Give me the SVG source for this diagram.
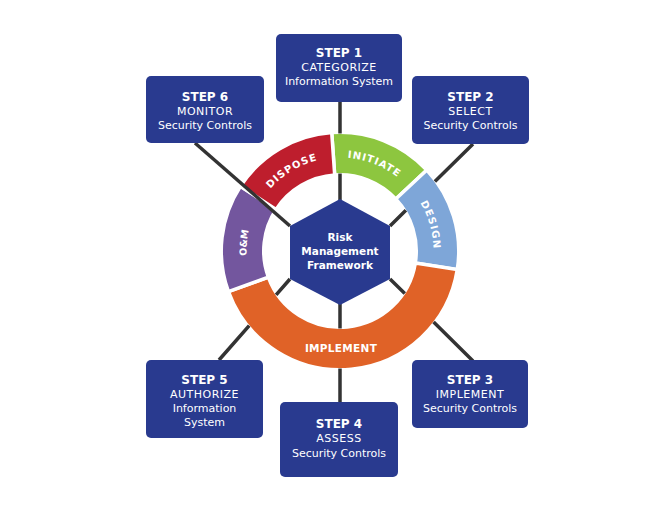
<svg xmlns="http://www.w3.org/2000/svg" xmlns:xlink="http://www.w3.org/1999/xlink" width="667" height="525" viewBox="0 0 667 525">
<style>
.box{fill:#293a8f}
.t{font-family:"DejaVu Sans","Liberation Sans",sans-serif;fill:#fff;text-anchor:middle}
.h{font-size:12px;font-weight:bold}
.c{font-size:11px;letter-spacing:0.5px}
.s{font-size:11px}
.hex{font-size:10.5px;font-weight:bold}
.seg{stroke:#fff;stroke-width:3.5;stroke-linejoin:miter}
.rl{font-family:"DejaVu Sans","Liberation Sans",sans-serif;fill:#fff;font-size:10px;font-weight:bold;letter-spacing:1px;text-anchor:middle}
.con{fill:none;stroke:#333;stroke-width:3.5}
</style>
<defs>
<path id="pDispose" d="M251.59,220.56 A93.5,93.5 0 0 1 354.63,158.65"/>
<path id="pInitiate" d="M310.33,162.33 A93.5,93.5 0 0 1 422.17,206.38"/>
<path id="pDesign" d="M392.28,173.49 A93.5,93.5 0 0 1 425.41,289.03"/>
<path id="pOM" d="M263.41,304.63 A93.5,93.5 0 0 1 273.89,184.89"/>
</defs>
<rect width="667" height="525" fill="#fff"/>
<g id="ring">
<g id="initiate">
<path class="seg" fill="#8dc63f" d="M331.72,132.54 A118.75,118.75 0 0 1 426.85,170.01 L395.77,199.00 A76.25,76.25 0 0 0 334.68,174.94 Z"/>
<text class="rl"><textPath href="#pInitiate" xlink:href="#pInitiate" startOffset="50%">INITIATE</textPath></text>
</g>
<g id="design">
<path class="seg" fill="#7ea6d8" d="M426.85,170.01 A118.75,118.75 0 0 1 457.29,269.58 L415.31,262.93 A76.25,76.25 0 0 0 395.77,199.00 Z"/>
<text class="rl"><textPath href="#pDesign" xlink:href="#pDesign" startOffset="50%">DESIGN</textPath></text>
</g>
<g id="implement">
<path class="seg" fill="#e06227" d="M457.29,269.58 A118.75,118.75 0 0 1 228.41,291.61 L268.35,277.08 A76.25,76.25 0 0 0 415.31,262.93 Z"/>
<text class="rl" x="341" y="352" style="font-size:10.5px;letter-spacing:0.3px">IMPLEMENT</text>
</g>
<g id="om">
<path class="seg" fill="#73569e" d="M228.41,291.61 A118.75,118.75 0 0 1 240.41,186.32 L276.05,209.47 A76.25,76.25 0 0 0 268.35,277.08 Z"/>
<text class="rl" style="font-size:9.5px;letter-spacing:0px"><textPath href="#pOM" xlink:href="#pOM" startOffset="50%">O&amp;M</textPath></text>
</g>
<g id="dispose">
<path class="seg" fill="#be1e2d" d="M240.41,186.32 A118.75,118.75 0 0 1 331.72,132.54 L334.68,174.94 A76.25,76.25 0 0 0 276.05,209.47 Z"/>
<text class="rl"><textPath href="#pDispose" xlink:href="#pDispose" startOffset="50%">DISPOSE</textPath></text>
</g>
</g>
<g id="connectors">
<path class="con" d="M340,102 V133.5 M340,173.5 V200"/>
<path class="con" d="M390,226 L405.9,210.3 M434.9,181.6 L473,144"/>
<path class="con" d="M390,279 L404.8,293.6 M433.6,322.1 L473,361"/>
<path class="con" d="M340,304 V328.5 M340,368.5 V402"/>
<path class="con" d="M290,279 L276.1,294.9 M249.2,325.6 L219,360"/>
<path class="con" d="M290,226 L195,143"/>
</g>
<g id="rmf">
<polygon fill="#293a8f" points="340,199 390,226 390,279 340,305 290,279 290,226"/>
<text class="t hex" x="340" y="241">Risk</text>
<text class="t hex" x="340" y="255">Management</text>
<text class="t hex" x="340" y="269">Framework</text>
</g>
<g id="step1">
<rect class="box" x="276" y="34" width="126" height="68" rx="5"/>
<text class="t h" x="339" y="57">STEP 1</text>
<text class="t c" x="339" y="71">CATEGORIZE</text>
<text class="t s" x="339" y="85">Information System</text>
</g>
<g id="step2">
<rect class="box" x="412" y="76" width="117" height="68" rx="5"/>
<text class="t h" x="470.5" y="101">STEP 2</text>
<text class="t c" x="470.5" y="115">SELECT</text>
<text class="t s" x="470.5" y="129">Security Controls</text>
</g>
<g id="step3">
<rect class="box" x="412" y="360" width="116" height="68" rx="5"/>
<text class="t h" x="470" y="384">STEP 3</text>
<text class="t c" x="470" y="398">IMPLEMENT</text>
<text class="t s" x="470" y="412">Security Controls</text>
</g>
<g id="step4">
<rect class="box" x="280" y="402" width="118" height="75" rx="5"/>
<text class="t h" x="339" y="428">STEP 4</text>
<text class="t c" x="339" y="442">ASSESS</text>
<text class="t s" x="339" y="456.5">Security Controls</text>
</g>
<g id="step5">
<rect class="box" x="146" y="360" width="117" height="78" rx="5"/>
<text class="t h" x="204.5" y="384">STEP 5</text>
<text class="t c" x="204.5" y="398">AUTHORIZE</text>
<text class="t s" x="204.5" y="412">Information</text>
<text class="t s" x="204.5" y="426">System</text>
</g>
<g id="step6">
<rect class="box" x="146" y="76" width="118" height="67" rx="5"/>
<text class="t h" x="205" y="101">STEP 6</text>
<text class="t c" x="205" y="115">MONITOR</text>
<text class="t s" x="205" y="129">Security Controls</text>
</g>
</svg>
